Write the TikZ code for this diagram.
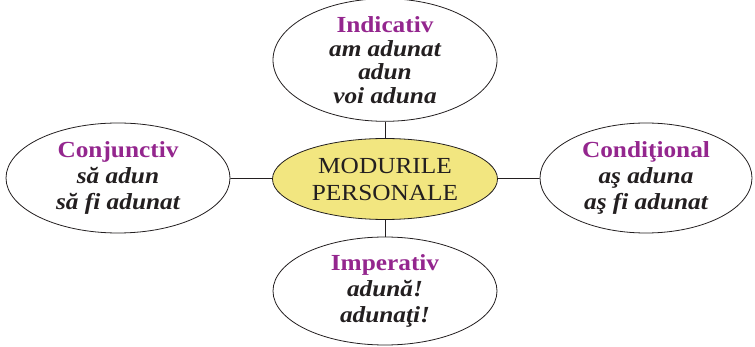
\documentclass[tikz,border=0pt]{standalone}
\usepackage{fontspec}
\setmainfont{Liberation Serif}[FakeStretch=1.1]
\usetikzlibrary{positioning, shapes.geometric}
\definecolor{modpurple}{RGB}{148, 38, 142}
\definecolor{modyellow}{RGB}{242, 230, 128}
\definecolor{inkblack}{RGB}{35, 31, 32}
\newcommand{\modname}[1]{{\upshape\color{modpurple}#1}}

\begin{document}
\begin{tikzpicture}[
    x=1pt, y=-1pt,
    mode/.style={ellipse, draw=inkblack, line width=0.8pt, inner sep=0pt,
        minimum width=224pt, minimum height=110pt, align=center, text=inkblack,
        font=\fontsize{23}{26}\selectfont\bfseries\itshape},
    hub/.style={ellipse, draw=inkblack, fill=modyellow, line width=0.8pt, inner sep=0pt,
        minimum width=225pt, minimum height=81pt, align=center, text=inkblack,
        font=\fontsize{23}{27}\selectfont},
    link/.style={line width=0.8pt, inkblack},
]
\useasboundingbox (0,0) rectangle (755,347);

% ===== centru =====
\node[hub] (personal) at (385,179) {MODURILE\\PERSONALE};

% ===== moduri =====
\node[mode, minimum height=116pt, font=\fontsize{23}{23.5}\selectfont\bfseries\itshape]
    (indicativ) at (385,60) {\modname{Indicativ}\\am adunat\\adun\\voi aduna};
\node[mode] (conjunctiv) at (118,178)
    {\modname{Conjunctiv}\\să adun\\să fi adunat};
\node[mode, minimum width=212pt] (conditional) at (646,178)
    {\modname{Condiţional}\\aş aduna\\aş fi adunat};
\node[mode, minimum height=108pt] (imperativ) at (385,291)
    {\modname{Imperativ}\\adună!\\adunaţi!};

% ===== legaturi =====
\draw[link] (indicativ) -- (personal);
\draw[link] (conjunctiv) -- (personal);
\draw[link] (personal) -- (conditional);
\draw[link] (personal) -- (imperativ);

\end{tikzpicture}
\end{document}
